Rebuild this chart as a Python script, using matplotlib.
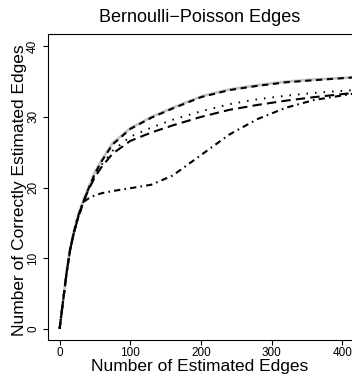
import matplotlib
matplotlib.use('Agg')
import matplotlib.pyplot as plt

plt.rcParams['font.family'] = ['Liberation Sans', 'DejaVu Sans']

# number of estimated edges (shared grid for all curves)
n_estimated = [0, 5, 10, 15, 20, 25, 33, 40, 50, 60, 75, 100, 130, 160, 200, 240, 280, 320, 360, 416]

# number of correctly estimated edges, one list per method
gray_solid = [0, 4.1, 8.2, 11.5, 13.8, 15.7, 18.0, 19.8, 22.2, 24.0, 26.3, 28.4, 30.0, 31.3, 32.9, 33.9, 34.5, 35.0, 35.3, 35.6]
black_dashed = [0, 4.0, 8.0, 11.3, 13.5, 15.4, 17.8, 19.6, 22.0, 23.8, 26.1, 28.3, 29.9, 31.2, 32.8, 33.8, 34.4, 34.9, 35.2, 35.6]
dotted = [0, 4.0, 8.0, 11.2, 13.5, 15.3, 17.8, 19.6, 21.8, 23.3, 25.2, 27.2, 28.5, 29.6, 30.8, 31.8, 32.5, 33.0, 33.4, 33.8]
long_dashed = [0, 4.0, 8.0, 11.2, 13.5, 15.3, 17.8, 19.5, 21.5, 23.0, 24.8, 26.6, 27.8, 28.8, 30.0, 31.0, 31.7, 32.3, 32.8, 33.4]
dash_dot = [0, 4.0, 8.0, 11.2, 13.5, 15.6, 17.9, 18.4, 18.9, 19.2, 19.5, 19.9, 20.4, 21.7, 24.6, 27.5, 29.7, 31.3, 32.4, 33.3]

x_ticks = [0, 100, 200, 300, 400]
y_ticks = [0, 10, 20, 30, 40]

fig = plt.figure(figsize=(3.52, 3.75), dpi=100)
ax = fig.add_axes([48.3 / 352, 1 - 340 / 375, 1.005 - 48.3 / 352, (340 - 34.3) / 375])

ax.plot(n_estimated, gray_solid, color='#c4c4c4', lw=1.9, solid_capstyle='butt')
ax.plot(n_estimated, black_dashed, color='black', lw=1.5, dashes=(3.0, 2.2))
ax.plot(n_estimated, dotted, color='black', lw=1.4, dashes=(0.8, 3.6))
ax.plot(n_estimated, long_dashed, color='black', lw=1.5, dashes=(4.5, 2.5))
ax.plot(n_estimated, dash_dot, color='black', lw=1.5, dashes=(3.0, 2.0, 0.8, 2.0))

ax.set_xlim(-16, 416)
ax.set_ylim(-1.6, 41.7)
ax.set_xticks(x_ticks)
ax.set_yticks(y_ticks)
ax.tick_params(direction='out', length=3.6, width=0.8, labelsize=8.5, pad=1.8)
ax.tick_params(axis='y', labelrotation=90, pad=3.0)
for lab in ax.get_yticklabels():
    lab.set_va('center')
for s in ax.spines.values():
    s.set_linewidth(0.8)

fig.text(200 / 352, 1 - 22 / 375, 'Bernoulli\u2212Poisson Edges', ha='center', va='baseline', fontsize=13)
fig.text(200 / 352, 1 - 371.5 / 375, 'Number of Estimated Edges', ha='center', va='baseline', fontsize=12.5)
fig.text(20 / 352, 1 - 190 / 375, 'Number of Correctly Estimated Edges', ha='center', va='center',
         rotation=90, fontsize=12.5)

fig.savefig('out.png', dpi=100)
